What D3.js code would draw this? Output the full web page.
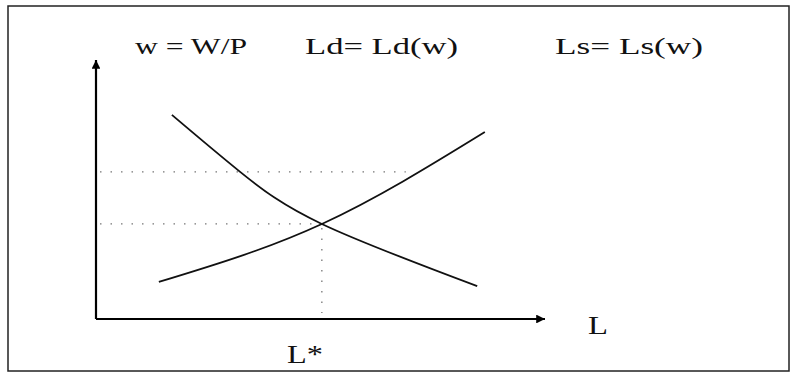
<!DOCTYPE html>
<html>
<head>
<meta charset="utf-8">
<script src="https://cdn.jsdelivr.net/npm/d3@7"></script>
<style>
  body { margin: 0; background: #fff; }
  text { font-family: "Liberation Serif", "DejaVu Serif", serif; fill: #111; }
</style>
</head>
<body>
<div id="chart"></div>
<script>
// labour market: demand and supply of labour vs real wage
const titleLabels = ["w = W/P", "Ld= Ld(w)", "Ls= Ls(w)"];
const axisLabelX = "L";
const eqLabel = "L*";

// curve points (L, w) in 0..100 units
const demandL = [16.9, 32.1, 50.3, 84.9];
const demandW = [78.8, 56.8, 36.7, 12.7];
const supplyL = [14.0, 50.3, 86.6];
const supplyW = [14.3, 36.7, 72.2];

const eqL = 50.3, eqW = 36.7;      // equilibrium
const highW = 56.8, highWEnd = 69; // wage above equilibrium

const width = 792, height = 373;

const svg = d3.select("#chart").append("svg")
    .attr("width", width)
    .attr("height", height);

// frame
svg.append("rect")
    .attr("x", 8).attr("y", 6)
    .attr("width", 781).attr("height", 365)
    .attr("fill", "none")
    .attr("stroke", "#222")
    .attr("stroke-width", 1.5);

const x = d3.scaleLinear().domain([0, 100]).range([96, 545]);
const y = d3.scaleLinear().domain([0, 100]).range([319, 60]);

// arrow heads
svg.append("defs").append("marker")
    .attr("id", "arrow")
    .attr("viewBox", "0 0 10 10")
    .attr("refX", 10).attr("refY", 5)
    .attr("markerWidth", 6).attr("markerHeight", 4)
    .attr("markerUnits", "strokeWidth")
    .attr("orient", "auto")
  .append("path")
    .attr("d", "M0,0 L10,5 L0,10 Z")
    .attr("fill", "#000");

// axes (no ticks, just arrows)
svg.append("line")
    .attr("x1", x(0)).attr("y1", y(0))
    .attr("x2", x(100)).attr("y2", y(0))
    .attr("stroke", "#000").attr("stroke-width", 2.2)
    .attr("marker-end", "url(#arrow)");
svg.append("line")
    .attr("x1", x(0)).attr("y1", y(0))
    .attr("x2", x(0)).attr("y2", y(100))
    .attr("stroke", "#000").attr("stroke-width", 2.2)
    .attr("marker-end", "url(#arrow)");

// dotted guide lines
const dotted = svg.append("g")
    .attr("stroke", "#777")
    .attr("stroke-width", 1.3)
    .attr("stroke-dasharray", "1.5,9");
dotted.append("line")
    .attr("x1", x(0) + 4).attr("y1", y(highW))
    .attr("x2", x(highWEnd)).attr("y2", y(highW));
dotted.append("line")
    .attr("x1", x(0) + 4).attr("y1", y(eqW))
    .attr("x2", x(eqL)).attr("y2", y(eqW));
dotted.append("line")
    .attr("x1", x(eqL)).attr("y1", y(eqW) + 4)
    .attr("x2", x(eqL)).attr("y2", y(0) - 6);

// curves
const line = d3.line()
    .x(d => x(d[0]))
    .y(d => y(d[1]))
    .curve(d3.curveNatural);

svg.append("path")
    .datum(d3.zip(demandL, demandW))
    .attr("d", line)
    .attr("fill", "none")
    .attr("stroke", "#111")
    .attr("stroke-width", 1.8);

svg.append("path")
    .datum(d3.zip(supplyL, supplyW))
    .attr("d", line)
    .attr("fill", "none")
    .attr("stroke", "#111")
    .attr("stroke-width", 1.8);

// texts, stretched to the widths seen in the picture
const titleX = [135, 305, 555];
const titleW = [112, 153, 148];
svg.selectAll(".title")
    .data(titleLabels)
    .enter()
    .append("text")
    .attr("class", "title")
    .attr("x", (d, i) => titleX[i])
    .attr("y", 54)
    .attr("font-size", 24)
    .attr("textLength", (d, i) => titleW[i])
    .attr("lengthAdjust", "spacingAndGlyphs")
    .text(d => d);

svg.append("text")
    .attr("x", 588).attr("y", 334)
    .attr("font-size", 25)
    .attr("textLength", 20)
    .attr("lengthAdjust", "spacingAndGlyphs")
    .text(axisLabelX);

svg.append("text")
    .attr("x", 287).attr("y", 363)
    .attr("font-size", 25)
    .attr("textLength", 36)
    .attr("lengthAdjust", "spacingAndGlyphs")
    .text(eqLabel);
</script>
</body>
</html>
